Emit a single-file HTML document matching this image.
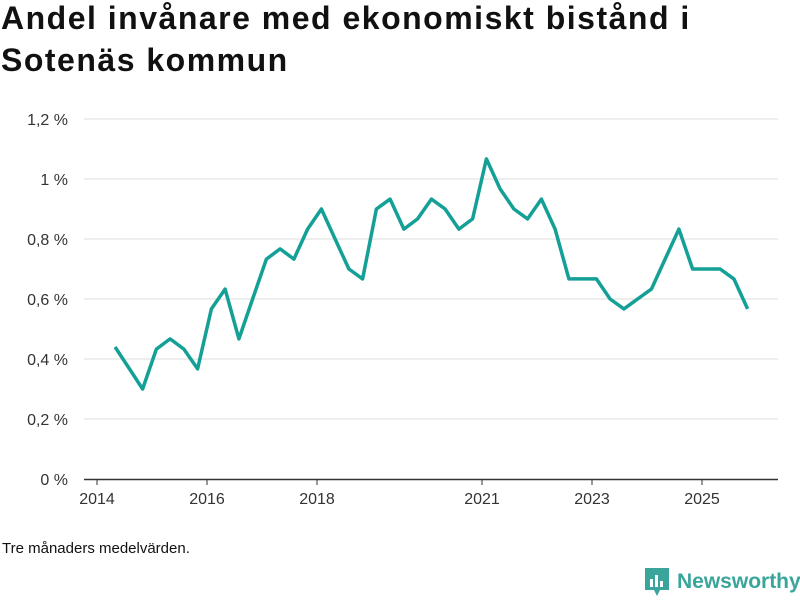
<!DOCTYPE html>
<html><head><meta charset="utf-8"><style>
body{margin:0;width:800px;height:600px;background:#fff;font-family:"Liberation Sans",sans-serif;overflow:hidden;position:relative}
h1{position:absolute;left:1px;top:-3px;margin:0;font-size:32px;letter-spacing:1.5px;line-height:42px;font-weight:bold;color:#111;width:730px}
.note{position:absolute;left:2px;top:540px;font-size:15px;color:#111}
.logo{position:absolute;left:645px;top:568px;display:flex;align-items:center;color:#3aa59b;font-size:21px;font-weight:bold}
</style></head><body>
<h1>Andel invånare med ekonomiskt bistånd i Sotenäs kommun</h1>
<svg id="chart" width="800" height="600" style="position:absolute;left:0;top:0"></svg>
<div class="note">Tre månaders medelvärden.</div>
<div class="logo">
<svg width="24" height="28" viewBox="0 0 24 28"><path d="M0 0H24V22H15L12 28L9 22H0Z" fill="#3aa59b"/><rect x="5" y="11" width="3" height="8" fill="#fff"/><rect x="10" y="7" width="3" height="12" fill="#fff"/><rect x="15" y="13" width="3" height="6" fill="#fff"/></svg>
<span style="margin-left:8px">Newsworthy</span></div>
<script>
const yTicks=[0,0.2,0.4,0.6,0.8,1,1.2];
const yTickLabels=["0 %","0,2 %","0,4 %","0,6 %","0,8 %","1 %","1,2 %"];
const xTicks=[2014,2016,2018,2021,2023,2025];
const startYear=2014.33;
const values=[0.44,0.37,0.30,0.433,0.467,0.433,0.367,0.567,0.633,0.467,0.6,0.733,0.767,0.733,0.833,0.9,0.8,0.7,0.667,0.9,0.933,0.833,0.867,0.933,0.9,0.833,0.867,1.067,0.967,0.9,0.867,0.933,0.833,0.667,0.667,0.667,0.6,0.567,0.6,0.633,0.733,0.833,0.7,0.7,0.7,0.667,0.567];
const svg=document.getElementById('chart');
const NS='http://www.w3.org/2000/svg';
const xS=yr=>97+(yr-2014)*55;
const yS=v=>479-v*300;
function mk(t,a){const e=document.createElementNS(NS,t);for(const k in a)e.setAttribute(k,a[k]);svg.appendChild(e);return e;}
yTicks.forEach((v,i)=>{
 if(v>0){const g=mk('line',{x1:84,x2:778,y1:yS(v),y2:yS(v),stroke:'#dcdcdc','stroke-width':1});
 
 }
 const t=mk('text',{x:68,y:yS(v)+6,'text-anchor':'end','font-size':16,fill:'#333','font-family':'Liberation Sans'});
 t.textContent=yTickLabels[i];
 
 
});
const ax=mk('line',{x1:84,x2:778,y1:479.5,y2:479.5,stroke:'#333','stroke-width':1.5});


xTicks.forEach(yr=>{
 const tk=mk('line',{x1:xS(yr),x2:xS(yr),y1:479,y2:485,stroke:'#333'});
 
 
 const t=mk('text',{x:xS(yr),y:504,'text-anchor':'middle','font-size':16,fill:'#333','font-family':'Liberation Sans'});
 t.textContent=yr;
 
 
});
const pts=values.map((v,i)=>xS(startYear+i*0.25).toFixed(1)+','+yS(v).toFixed(1)).join(' ');
const pl=mk('polyline',{points:pts,fill:'none',stroke:'#14a096','stroke-width':3.5,'stroke-linejoin':'round'});


</script>
</body></html>
